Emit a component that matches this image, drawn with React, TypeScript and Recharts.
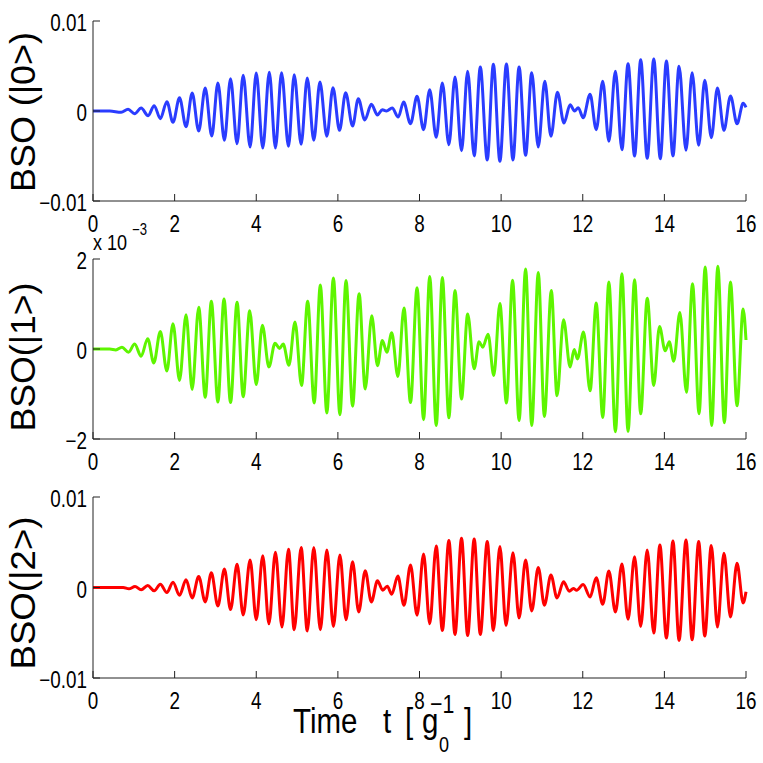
import { LineChart, Line, XAxis, YAxis } from 'recharts';

// extrema: [time in 1/g0, BSO in units of 1e-3]
const bso0: [number, number][] = [
  [0, 0], [0.41, 0], [0.69, -0.15], [0.86, 0.19], [1.02, -0.3], [1.18, 0.33], [1.35, -0.52], [1.5, 0.59],
  [1.65, -0.85], [1.81, 1.04], [1.96, -1.26], [2.12, 1.48], [2.28, -1.74], [2.43, 2.0], [2.59, -2.22],
  [2.75, 2.56], [2.91, -2.78], [3.06, 3.11], [3.22, -3.26], [3.37, 3.59], [3.53, -3.63], [3.68, 3.96],
  [3.85, -4.0], [4.0, 4.22], [4.16, -4.11], [4.32, 4.3], [4.47, -4.11], [4.62, 4.26], [4.79, -3.93],
  [4.93, 4.04], [5.1, -3.7], [5.25, 3.67], [5.41, -3.26], [5.56, 3.22], [5.73, -2.81], [5.88, 2.59],
  [6.04, -2.15], [6.19, 2.04], [6.36, -1.67], [6.5, 1.37], [6.66, -1.0], [6.82, 0.74], [6.97, -0.44],
  [7.09, 0.15], [7.19, 0.0], [7.33, 0.33], [7.48, -0.67], [7.61, 1.0], [7.78, -1.41], [7.94, 1.63],
  [8.1, -2.07], [8.25, 2.37], [8.41, -2.93], [8.56, 3.11], [8.72, -3.74], [8.87, 3.78], [9.03, -4.41],
  [9.18, 4.41], [9.34, -5.0], [9.49, 4.89], [9.66, -5.44], [9.81, 5.19], [9.97, -5.59], [10.13, 5.22],
  [10.29, -5.44], [10.44, 4.89], [10.6, -4.93], [10.75, 4.26], [10.91, -4.0], [11.07, 3.3], [11.22, -2.81],
  [11.38, 2.07], [11.54, -1.33], [11.69, 0.7], [11.8, 0.0], [11.89, 0.37], [12.01, -0.74], [12.18, 1.85],
  [12.33, -2.07], [12.49, 3.3], [12.64, -3.37], [12.8, 4.41], [12.96, -4.3], [13.11, 5.26], [13.27, -5.0],
  [13.42, 5.7], [13.58, -5.26], [13.74, 5.78], [13.9, -5.3], [14.05, 5.56], [14.21, -5.0], [14.36, 4.96],
  [14.53, -4.37], [14.68, 4.26], [14.84, -3.81], [14.99, 3.41], [15.15, -2.96], [15.3, 2.56],
  [15.46, -2.15], [15.62, 1.67], [15.78, -1.41], [15.93, 0.85], [16, 0.4],
];

const bso1: [number, number][] = [
  [0, 0], [0.41, 0], [0.56, -0.02], [0.71, 0.04], [0.87, -0.07], [1.02, 0.11], [1.18, -0.16], [1.34, 0.23],
  [1.49, -0.31], [1.65, 0.39], [1.81, -0.49], [1.96, 0.56], [2.12, -0.7], [2.28, 0.76], [2.43, -0.9],
  [2.59, 0.93], [2.75, -1.07], [2.9, 1.06], [3.06, -1.18], [3.21, 1.11], [3.37, -1.19], [3.53, 1.04],
  [3.68, -1.06], [3.84, 0.85], [4.0, -0.79], [4.15, 0.53], [4.31, -0.4], [4.46, 0.13], [4.57, 0.01],
  [4.66, 0.11], [4.8, -0.36], [4.95, 0.6], [5.11, -0.81], [5.26, 1.06], [5.42, -1.2], [5.57, 1.42],
  [5.73, -1.42], [5.89, 1.58], [6.05, -1.46], [6.2, 1.52], [6.36, -1.27], [6.52, 1.23], [6.67, -0.89],
  [6.83, 0.74], [6.97, -0.37], [7.09, 0.19], [7.2, -0.07], [7.32, 0.36], [7.47, -0.61], [7.62, 0.91],
  [7.78, -1.19], [7.94, 1.36], [8.1, -1.57], [8.25, 1.61], [8.41, -1.7], [8.56, 1.59], [8.72, -1.53],
  [8.87, 1.3], [9.03, -1.11], [9.18, 0.78], [9.34, -0.44], [9.46, 0.16], [9.55, 0.04], [9.68, 0.33],
  [9.82, -0.59], [9.97, 1.01], [10.13, -1.2], [10.28, 1.53], [10.44, -1.59], [10.6, 1.78], [10.75, -1.7],
  [10.91, 1.7], [11.06, -1.5], [11.23, 1.3], [11.37, -1.04], [11.53, 0.65], [11.69, -0.4], [11.79, -0.01],
  [11.87, -0.22], [12.02, 0.38], [12.18, -0.93], [12.33, 1.02], [12.49, -1.52], [12.64, 1.49],
  [12.8, -1.84], [12.96, 1.67], [13.11, -1.83], [13.27, 1.54], [13.42, -1.44], [13.58, 1.13],
  [13.74, -0.81], [13.88, 0.5], [14.02, -0.04], [14.12, 0.16], [14.23, -0.27], [14.38, 0.81],
  [14.54, -0.96], [14.69, 1.45], [14.85, -1.44], [15.0, 1.82], [15.16, -1.7], [15.31, 1.84],
  [15.47, -1.64], [15.62, 1.49], [15.78, -1.26], [15.93, 0.89], [16, 0.2],
];

const bso2: [number, number][] = [
  [0, 0], [0.74, 0], [0.88, -0.15], [1.03, 0.11], [1.18, -0.26], [1.34, 0.22], [1.5, -0.37], [1.65, 0.37],
  [1.81, -0.56], [1.96, 0.59], [2.12, -0.85], [2.28, 0.85], [2.43, -1.15], [2.59, 1.22], [2.75, -1.59],
  [2.9, 1.63], [3.06, -2.04], [3.22, 2.04], [3.37, -2.44], [3.53, 2.56], [3.68, -3.04], [3.85, 3.04],
  [4.0, -3.56], [4.16, 3.52], [4.31, -4.0], [4.47, 3.89], [4.63, -4.37], [4.79, 4.22], [4.93, -4.67],
  [5.1, 4.41], [5.25, -4.81], [5.41, 4.41], [5.57, -4.67], [5.73, 4.15], [5.89, -4.3], [6.05, 3.59],
  [6.2, -3.56], [6.36, 2.85], [6.51, -2.7], [6.67, 1.85], [6.82, -1.59], [6.97, 0.74], [7.1, -0.3],
  [7.21, 0.15], [7.32, -0.74], [7.47, 1.26], [7.62, -1.96], [7.78, 2.48], [7.94, -3.07], [8.1, 3.7],
  [8.25, -4.0], [8.41, 4.59], [8.56, -4.74], [8.72, 5.19], [8.87, -5.19], [9.03, 5.44], [9.18, -5.3],
  [9.34, 5.37], [9.49, -5.19], [9.66, 5.07], [9.81, -4.74], [9.97, 4.52], [10.12, -4.19], [10.29, 3.85],
  [10.44, -3.37], [10.6, 3.04], [10.75, -2.59], [10.91, 2.22], [11.06, -1.96], [11.22, 1.37],
  [11.37, -1.15], [11.53, 0.63], [11.67, -0.41], [11.77, -0.11], [11.85, -0.3], [12.01, 0.33],
  [12.18, -1.04], [12.33, 1.07], [12.49, -1.85], [12.64, 1.81], [12.8, -2.7], [12.96, 2.59],
  [13.11, -3.52], [13.27, 3.41], [13.42, -4.3], [13.58, 4.15], [13.74, -5.04], [13.89, 4.7],
  [14.05, -5.59], [14.21, 5.15], [14.36, -5.85], [14.53, 5.26], [14.68, -5.78], [14.84, 5.07],
  [14.99, -5.37], [15.15, 4.63], [15.3, -4.37], [15.46, 3.78], [15.62, -3.26], [15.78, 2.67],
  [15.93, -1.7], [16, -0.48],
];

const xTicks = [0, 2, 4, 6, 8, 10, 12, 14, 16];
const yTicksWide = [-10, 0, 10];
const yLabelsWide = ['\u22120.01', '0', '0.01'];
const yTicksNarrow = [-2, 0, 2];
const yLabelsNarrow = ['\u22122', '0', '2'];

const font = "'Liberation Sans', Arial, Helvetica, sans-serif";
const axisColor = '#222';
const squeeze = 0.82; // the figure's lettering is horizontally condensed

// text squeezed horizontally around its anchor point
function NText({ x, y, size, anchor = 'start', children }: any) {
  return (
    <g transform={`translate(${x} ${y}) scale(${squeeze} 1)`}>
      <text x={0} y={0} fontSize={size} textAnchor={anchor} fontFamily={font} fill="#000">
        {children}
      </text>
    </g>
  );
}

type PanelProps = {
  data: [number, number][];
  color: string;
  top: number;
  marginTop: number;
  marginBottom: number;
  yTicks: number[];
  yLabels: string[];
};

function Panel({ data, color, top, marginTop, marginBottom, yTicks, yLabels }: PanelProps) {
  const rows = data.map(([t, v]) => ({ t, v }));
  const domain = [yTicks[0], yTicks[yTicks.length - 1]];
  const fmt = (v: number) => yLabels[yTicks.indexOf(v)] ?? '';
  const xTick = (p: any) => (
    <NText x={p.x} y={p.y + 17} size={23} anchor="middle">{p.payload.value}</NText>
  );
  const yTick = (p: any) => (
    <NText x={p.x} y={p.y + 10} size={23} anchor="end">{fmt(p.payload.value)}</NText>
  );
  return (
    <div style={{ position: 'absolute', left: 0, top }}>
      <LineChart width={763} height={240} data={rows}
        margin={{ top: marginTop, right: 17, bottom: marginBottom, left: 0 }}>
        <XAxis dataKey="t" type="number" domain={[0, 16]} ticks={xTicks} interval={0}
          height={30} tickSize={-7} tickMargin={21} stroke={axisColor} tick={xTick} />
        <XAxis xAxisId="top" orientation="top" dataKey="t" type="number" domain={[0, 16]}
          ticks={xTicks} interval={0} height={0} tickSize={-7} tick={false} stroke={axisColor} />
        <YAxis type="number" domain={domain} ticks={yTicks} interval={0} width={93}
          tickSize={-7} tickMargin={13} stroke={axisColor} tick={yTick} />
        <YAxis yAxisId="r" orientation="right" type="number" domain={domain} ticks={yTicks}
          interval={0} width={0} tickSize={-7} tick={false} stroke={axisColor} />
        <Line dataKey="v" type="monotone" stroke={color} strokeWidth={3} dot={false}
          isAnimationActive={false} />
      </LineChart>
    </div>
  );
}

export default function App() {
  return (
    <div style={{ position: 'absolute', left: 0, top: 0, width: 763, height: 763, background: '#fff' }}>
      <Panel data={bso0} color="#2a3cff" top={0} marginTop={21} marginBottom={9}
        yTicks={yTicksWide} yLabels={yLabelsWide} />
      <Panel data={bso1} color="#5ef500" top={240} marginTop={19} marginBottom={11}
        yTicks={yTicksNarrow} yLabels={yLabelsNarrow} />
      <Panel data={bso2} color="#ff0000" top={480} marginTop={17} marginBottom={12}
        yTicks={yTicksWide} yLabels={yLabelsWide} />
      <svg width={763} height={763} style={{ position: 'absolute', left: 0, top: 0, pointerEvents: 'none' }}
        fontFamily={font} fill="#000">
        <text x={35} y={112} fontSize={35} textAnchor="middle" transform="rotate(-90 35 112)"
          textLength={160} lengthAdjust="spacingAndGlyphs">BSO  (|0&gt;)</text>
        <text x={35} y={357} fontSize={35} textAnchor="middle" transform="rotate(-90 35 357)"
          textLength={149} lengthAdjust="spacingAndGlyphs">BSO(|1&gt;)</text>
        <text x={35} y={593} fontSize={35} textAnchor="middle" transform="rotate(-90 35 593)"
          textLength={153} lengthAdjust="spacingAndGlyphs">BSO(|2&gt;)</text>
        <NText x={93} y={250} size={22}>x 10</NText>
        <NText x={132} y={235} size={16}>{'\u22123'}</NText>
        <NText x={293} y={733} size={36}>Time</NText>
        <NText x={383} y={733} size={36}>t</NText>
        <NText x={405} y={733} size={36}>[</NText>
        <NText x={422} y={733} size={36}>g</NText>
        <NText x={439} y={752} size={22}>0</NText>
        <NText x={430} y={713} size={26}>{'\u22121'}</NText>
        <NText x={464} y={733} size={36}>]</NText>
      </svg>
    </div>
  );
}
